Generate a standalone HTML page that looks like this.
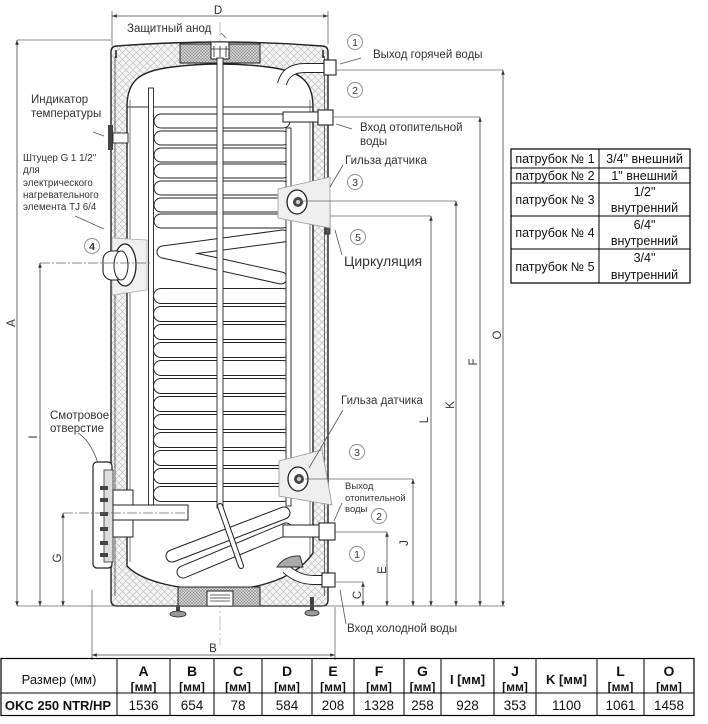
<!DOCTYPE html>
<html><head><meta charset="utf-8">
<style>
html,body{margin:0;padding:0;background:#fff;}
svg{display:block;}
text{font-family:"Liberation Sans",sans-serif;fill:#333;}
.tb text{fill:#111;}
</style></head><body>
<svg width="708" height="724" viewBox="0 0 708 724" xmlns="http://www.w3.org/2000/svg">
<defs>
<pattern id="xh" width="7" height="7" patternUnits="userSpaceOnUse">
<rect width="7" height="7" fill="#f5f5f5"/>
<path d="M0,0L7,7M7,0L0,7" stroke="#c2c2c2" stroke-width="0.7"/>
</pattern>
<pattern id="dh" width="3" height="3" patternUnits="userSpaceOnUse">
<rect width="3" height="3" fill="#cfcfcf"/>
<path d="M0,0L3,3M3,0L0,3" stroke="#8a8a8a" stroke-width="0.5"/>
</pattern>
<marker id="ar" viewBox="0 0 8 6" refX="8" refY="3" markerWidth="6" markerHeight="5" orient="auto-start-reverse"><path d="M0,0L8,3L0,6Z" fill="#333"/></marker>
</defs>

<!-- center line -->
<line x1="220" y1="22" x2="220" y2="645" stroke="#aaa" stroke-width="0.7" stroke-dasharray="14,3,2,3"/>

<!-- outer shell with insulation -->
<path d="M111,600 L111,52 Q111,46 117,46 Q220,38 322,46 Q328,46 328,52 L328,600 Q328,606 322,606 L117,606 Q111,606 111,600 Z" fill="url(#xh)" stroke="#222" stroke-width="1.4"/>
<line x1="115" y1="56" x2="115" y2="596" stroke="#444" stroke-width="0.8"/>
<line x1="324.5" y1="56" x2="324.5" y2="596" stroke="#444" stroke-width="0.8"/>
<path d="M116,50 L116,58 M323,50 L323,58" stroke="#222" stroke-width="1.5"/>

<!-- inner tank -->
<path d="M127,107 C127,80 140,71 172,67 Q220,61 268,67 C300,71 313,80 313,107 L313,553 C292,584 245,590 220,590 C180,590 142,582 127,566 Z" fill="#fff" stroke="#222" stroke-width="1.4"/>
<line x1="130" y1="100" x2="130" y2="562" stroke="#444" stroke-width="0.7"/>
<line x1="310" y1="100" x2="310" y2="556" stroke="#444" stroke-width="0.7"/>
<line x1="127" y1="107" x2="313" y2="107" stroke="#333" stroke-width="1"/>

<!-- top anode block -->
<rect x="180" y="44" width="80" height="19" fill="url(#dh)" stroke="#222" stroke-width="1"/>
<rect x="211" y="42" width="18" height="17" fill="#fff" stroke="#222" stroke-width="1"/>
<path d="M214,46 L214,57 M220,46 L220,57 M226,46 L226,57 M211,49 L229,49" stroke="#222" stroke-width="0.8"/>

<!-- bottom block -->
<rect x="178" y="587" width="82" height="19" fill="url(#dh)" stroke="#222" stroke-width="1"/>
<rect x="207" y="591" width="26" height="15" fill="#fff" stroke="#222" stroke-width="1"/>
<path d="M210,595 L230,595 M210,598 L230,598 M210,601 L230,601" stroke="#333" stroke-width="0.7"/>

<!-- coils -->
<g stroke="#222" stroke-width="15" stroke-linecap="round" fill="none">
<line x1="161" y1="121" x2="283" y2="121"/><line x1="161" y1="138" x2="283" y2="138"/>
<line x1="161" y1="155" x2="283" y2="155"/><line x1="161" y1="171" x2="283" y2="171"/>
<line x1="161" y1="188" x2="283" y2="188"/><line x1="161" y1="205" x2="283" y2="205"/>
<line x1="161" y1="221" x2="283" y2="221"/>
</g>
<g stroke="#fff" stroke-width="13" stroke-linecap="round" fill="none">
<line x1="161" y1="121" x2="283" y2="121"/><line x1="161" y1="138" x2="283" y2="138"/>
<line x1="161" y1="155" x2="283" y2="155"/><line x1="161" y1="171" x2="283" y2="171"/>
<line x1="161" y1="188" x2="283" y2="188"/><line x1="161" y1="205" x2="283" y2="205"/>
<line x1="161" y1="221" x2="283" y2="221"/>
</g>
<g stroke="#222" stroke-width="16" stroke-linecap="round" fill="none">
<line x1="161" y1="296" x2="283" y2="296"/><line x1="161" y1="314" x2="283" y2="314"/>
<line x1="161" y1="332" x2="283" y2="332"/><line x1="161" y1="350" x2="283" y2="350"/>
<line x1="161" y1="368" x2="283" y2="368"/><line x1="161" y1="386" x2="283" y2="386"/>
<line x1="161" y1="404" x2="283" y2="404"/><line x1="161" y1="422" x2="283" y2="422"/>
<line x1="161" y1="440" x2="283" y2="440"/><line x1="161" y1="458" x2="283" y2="458"/>
<line x1="161" y1="476" x2="283" y2="476"/><line x1="161" y1="494" x2="283" y2="494"/>
</g>
<g stroke="#fff" stroke-width="14" stroke-linecap="round" fill="none">
<line x1="161" y1="296" x2="283" y2="296"/><line x1="161" y1="314" x2="283" y2="314"/>
<line x1="161" y1="332" x2="283" y2="332"/><line x1="161" y1="350" x2="283" y2="350"/>
<line x1="161" y1="368" x2="283" y2="368"/><line x1="161" y1="386" x2="283" y2="386"/>
<line x1="161" y1="404" x2="283" y2="404"/><line x1="161" y1="422" x2="283" y2="422"/>
<line x1="161" y1="440" x2="283" y2="440"/><line x1="161" y1="458" x2="283" y2="458"/>
<line x1="161" y1="476" x2="283" y2="476"/><line x1="161" y1="494" x2="283" y2="494"/>
</g>
<path d="M283,236 L163,252 L281,278" stroke="#222" stroke-width="13" fill="none" stroke-linecap="round" stroke-linejoin="round"/>
<path d="M283,236 L163,252 L281,278" stroke="#fff" stroke-width="11" fill="none" stroke-linecap="round" stroke-linejoin="round"/>
<path d="M172,556 L284,513 M183,572 L286,529" stroke="#222" stroke-width="13" fill="none" stroke-linecap="round"/>
<path d="M172,556 L284,513 M183,572 L286,529" stroke="#fff" stroke-width="11" fill="none" stroke-linecap="round"/>

<!-- tubes -->
<rect x="148.5" y="88" width="5" height="423" fill="#fff" stroke="#222" stroke-width="0.9"/>
<rect x="286" y="128" width="5" height="378" fill="#fff" stroke="#222" stroke-width="0.9"/>
<rect x="217" y="58" width="6" height="450" fill="#fff" stroke="#222" stroke-width="0.9"/>
<line x1="220" y1="506" x2="241" y2="566" stroke="#222" stroke-width="6" stroke-linecap="round"/>
<line x1="220" y1="506" x2="241" y2="566" stroke="#fff" stroke-width="4" stroke-linecap="round"/>

<!-- right pipes -->
<path d="M282,84 Q286,68 305,68 L326,68" stroke="#222" stroke-width="10" fill="none"/>
<path d="M282,84 Q286,68 305,68 L326,68" stroke="#fff" stroke-width="8" fill="none"/>
<rect x="324" y="60" width="12" height="15" fill="#fff" stroke="#222" stroke-width="1.1"/>
<rect x="283" y="112" width="36" height="10" fill="#fff" stroke="#222" stroke-width="1"/>
<rect x="318" y="110" width="15" height="15" fill="#fff" stroke="#222" stroke-width="1.1"/>
<rect x="313" y="212" width="13" height="12" fill="#fff" stroke="#222" stroke-width="1"/>
<rect x="325" y="204" width="5" height="30" fill="#555" stroke="#222" stroke-width="0.8"/>
<rect x="283" y="525" width="37" height="12" fill="#fff" stroke="#222" stroke-width="1"/>
<rect x="319" y="523" width="16" height="17" fill="#fff" stroke="#222" stroke-width="1.1"/>
<path d="M286,569 Q298,580 314,580 L323,580" stroke="#222" stroke-width="10" fill="none"/>
<path d="M286,569 Q298,580 314,580 L323,580" stroke="#fff" stroke-width="8" fill="none"/>
<rect x="322" y="573" width="13" height="14" fill="#fff" stroke="#222" stroke-width="1.1"/>
<path d="M277,567 Q285,555 300,556 L303,567 Z" fill="#aaa" stroke="#222" stroke-width="0.9"/>

<!-- sensors -->
<polygon points="278,189 330,177 330,228 278,218" fill="#efefef" stroke="#999" stroke-width="0.8"/>
<ellipse cx="297" cy="202" rx="10" ry="12" fill="#fff" stroke="#222" stroke-width="1.3"/>
<circle cx="298" cy="202" r="5" fill="#444"/><circle cx="298" cy="202" r="2.2" fill="#ccc"/>
<polygon points="279,461 322,450 332,505 279,496" fill="#efefef" stroke="#999" stroke-width="0.8"/>
<ellipse cx="298" cy="479" rx="10" ry="12" fill="#fff" stroke="#222" stroke-width="1.3"/>
<circle cx="299" cy="479" r="5" fill="#444"/><circle cx="299" cy="479" r="2.2" fill="#ccc"/>

<!-- item 4 -->
<polygon points="112,238 147,240 147,290 112,295" fill="#f0f0f0" stroke="#aaa" stroke-width="0.8"/>
<ellipse cx="125" cy="265" rx="11" ry="21" fill="#fff" stroke="#222" stroke-width="1.3"/>
<rect x="103" y="251" width="22" height="29" rx="9" fill="#fff" stroke="#222" stroke-width="1.1"/>
<ellipse cx="121" cy="265.5" rx="7" ry="14.5" fill="#fff" stroke="#222" stroke-width="1"/>

<!-- temperature indicator -->
<rect x="108" y="125" width="5" height="25" fill="#444"/>
<rect x="113" y="133" width="15" height="10" fill="#fff" stroke="#222" stroke-width="0.9"/>

<!-- inspection hatch -->
<rect x="93" y="462" width="19" height="106" rx="4" fill="#fff" stroke="#222" stroke-width="1.2"/>
<rect x="104" y="470" width="9" height="92" fill="#ddd" stroke="#333" stroke-width="0.8"/>
<g fill="#444"><rect x="100" y="486" width="8" height="4"/><rect x="100" y="498" width="8" height="4"/><rect x="100" y="512" width="8" height="4"/><rect x="100" y="527" width="8" height="4"/><rect x="100" y="541" width="8" height="4"/><rect x="100" y="553" width="8" height="4"/></g>
<rect x="113" y="490" width="20" height="47" fill="#fff" stroke="#222" stroke-width="1"/>
<rect x="113" y="505" width="75" height="15" fill="#fff" stroke="#222" stroke-width="1"/>

<!-- feet -->
<rect x="176" y="605" width="4" height="7" fill="#444"/>
<ellipse cx="178" cy="614" rx="8" ry="3" fill="#999" stroke="#222" stroke-width="0.8"/>
<rect x="310" y="597" width="4" height="14" fill="#444"/>
<ellipse cx="312" cy="613" rx="7" ry="3" fill="#999" stroke="#222" stroke-width="0.8"/>

<!-- dimension lines -->
<g stroke="#666" stroke-width="0.8" fill="none">
<line x1="112" y1="11" x2="112" y2="46"/><line x1="328" y1="11" x2="328" y2="44"/>
<line x1="17" y1="40" x2="111" y2="40"/>
<line x1="40" y1="263" x2="150" y2="263" stroke-dasharray="10,2,2,2"/>
<line x1="63" y1="513" x2="188" y2="513" stroke-dasharray="10,2,2,2"/>
<line x1="17" y1="606" x2="505" y2="606"/>
<line x1="336" y1="70" x2="503" y2="70"/>
<line x1="333" y1="117" x2="480" y2="117"/>
<line x1="300" y1="201" x2="456" y2="201"/>
<line x1="330" y1="216" x2="431" y2="216"/>
<line x1="305" y1="479" x2="413" y2="479"/>
<line x1="335" y1="532" x2="387" y2="532"/>
<line x1="335" y1="582" x2="363" y2="582"/>
<line x1="92" y1="590" x2="92" y2="660"/><line x1="335" y1="607" x2="335" y2="660"/>
</g>
<g stroke="#444" stroke-width="0.8" marker-start="url(#ar)" marker-end="url(#ar)">
<line x1="112" y1="16" x2="328" y2="16"/>
<line x1="92" y1="655" x2="335" y2="655"/>
<line x1="17" y1="606" x2="17" y2="40"/>
<line x1="40" y1="606" x2="40" y2="263"/>
<line x1="63" y1="606" x2="63" y2="513"/>
<line x1="503" y1="606" x2="503" y2="70"/>
<line x1="480" y1="606" x2="480" y2="117"/>
<line x1="456" y1="606" x2="456" y2="201"/>
<line x1="431" y1="606" x2="431" y2="216"/>
<line x1="413" y1="606" x2="413" y2="479"/>
<line x1="387" y1="606" x2="387" y2="532"/>
<line x1="363" y1="606" x2="363" y2="582"/>
</g>

<!-- dimension letters -->
<g font-size="11.5">
<text x="218" y="14" text-anchor="middle">D</text>
<text x="213" y="652" text-anchor="middle">B</text>
<text transform="translate(15,323) rotate(-90)" text-anchor="middle">A</text>
<text transform="translate(37,437) rotate(-90)" text-anchor="middle">I</text>
<text transform="translate(61,558) rotate(-90)" text-anchor="middle">G</text>
<text transform="translate(501,335) rotate(-90)" text-anchor="middle">O</text>
<text transform="translate(477,362) rotate(-90)" text-anchor="middle">F</text>
<text transform="translate(454,405) rotate(-90)" text-anchor="middle">K</text>
<text transform="translate(428,420) rotate(-90)" text-anchor="middle">L</text>
<text transform="translate(408,543) rotate(-90)" text-anchor="middle">J</text>
<text transform="translate(386,570) rotate(-90)" text-anchor="middle">E</text>
<text transform="translate(361,595) rotate(-90)" text-anchor="middle">C</text>
</g>

<!-- leaders -->
<g stroke="#555" stroke-width="0.8" fill="none">
<line x1="221" y1="33" x2="226" y2="38"/>
<line x1="93" y1="132" x2="104" y2="136"/>
<line x1="75" y1="216" x2="104" y2="229"/>
<line x1="340" y1="64" x2="361" y2="58"/>
<line x1="336" y1="124" x2="352" y2="129"/>
<line x1="343" y1="165" x2="330" y2="187"/>
<line x1="335" y1="230" x2="342" y2="255"/>
<path d="M78,433 Q90,440 98,463"/>
<line x1="343" y1="410" x2="309" y2="468"/>
<line x1="342" y1="503" x2="334" y2="521"/>
<line x1="340" y1="590" x2="346" y2="624"/>
</g>

<!-- circled numbers -->
<g fill="#fff" stroke="#888" stroke-width="0.9">
<circle cx="355" cy="42" r="7.5"/><circle cx="355" cy="90" r="7.5"/>
<circle cx="355" cy="182" r="7.5"/><circle cx="358" cy="237" r="7.5"/>
<circle cx="92" cy="246" r="7.5"/><circle cx="357" cy="452" r="7.5"/>
<circle cx="379" cy="516" r="7.5"/><circle cx="357" cy="554" r="7.5"/>
</g>
<g font-size="10.5" text-anchor="middle">
<text x="355" y="46">1</text><text x="355" y="94">2</text>
<text x="355" y="186">3</text><text x="358" y="241">5</text>
<text x="92" y="250" font-weight="bold">4</text><text x="357" y="456">3</text>
<text x="379" y="520">2</text><text x="357" y="558">1</text>
</g>

<!-- labels -->
<g font-size="11.5">
<text x="127" y="32">Защитный анод</text>
<text x="31" y="103">Индикатор</text>
<text x="31" y="117">температуры</text>
<text x="373" y="58">Выход горячей воды</text>
<text x="360" y="131">Вход отопительной</text>
<text x="360" y="145">воды</text>
<text x="345" y="164">Гильза датчика</text>
<text x="50" y="419">Смотровое</text>
<text x="50" y="432">отверстие</text>
<text x="341" y="404">Гильза датчика</text>
<text x="347" y="632">Вход холодной воды</text>
</g>
<g font-size="9.8">
<text x="23" y="161">Штуцер G 1 1/2"</text>
<text x="23" y="173">для</text>
<text x="23" y="186">электрического</text>
<text x="23" y="198">нагревательного</text>
<text x="23" y="210">элемента TJ 6/4</text>
</g>
<g font-size="9.5">
<text x="345" y="489">Выход</text>
<text x="345" y="501">отопительной</text>
<text x="345" y="512">воды</text>
</g>
<text x="344" y="266" font-size="14">Циркуляция</text>

<!-- right table -->
<g class="tb">
<rect x="511" y="149" width="179" height="134" fill="none" stroke="#000" stroke-width="1.2"/>
<g stroke="#000" stroke-width="1">
<line x1="599" y1="149" x2="599" y2="283"/>
<line x1="511" y1="168" x2="690" y2="168"/>
<line x1="511" y1="183" x2="690" y2="183"/>
<line x1="511" y1="216" x2="690" y2="216"/>
<line x1="511" y1="249" x2="690" y2="249"/>
</g>
<g font-size="12.5" text-anchor="middle">
<text x="555" y="163">патрубок № 1</text><text x="644.5" y="163">3/4" внешний</text>
<text x="555" y="180">патрубок № 2</text><text x="644.5" y="180">1" внешний</text>
<text x="555" y="204">патрубок № 3</text><text x="644.5" y="196">1/2"</text><text x="644.5" y="212">внутренний</text>
<text x="555" y="237">патрубок № 4</text><text x="644.5" y="229">6/4"</text><text x="644.5" y="245">внутренний</text>
<text x="555" y="271">патрубок № 5</text><text x="644.5" y="262">3/4"</text><text x="644.5" y="279">внутренний</text>
</g>
</g>

<!-- bottom table -->
<g class="tb">
<rect x="1" y="658.5" width="693" height="57" fill="none" stroke="#000" stroke-width="1.2"/>
<line x1="1" y1="693" x2="694" y2="693" stroke="#000" stroke-width="1"/>
<g stroke="#000" stroke-width="1">
<line x1="117" y1="658" x2="117" y2="716"/><line x1="170" y1="658" x2="170" y2="716"/>
<line x1="214" y1="658" x2="214" y2="716"/><line x1="262" y1="658" x2="262" y2="716"/>
<line x1="312" y1="658" x2="312" y2="716"/><line x1="354" y1="658" x2="354" y2="716"/>
<line x1="404" y1="658" x2="404" y2="716"/><line x1="441" y1="658" x2="441" y2="716"/>
<line x1="494" y1="658" x2="494" y2="716"/><line x1="536" y1="658" x2="536" y2="716"/>
<line x1="597" y1="658" x2="597" y2="716"/><line x1="644" y1="658" x2="644" y2="716"/>
</g>
<text x="59" y="684" font-size="13" text-anchor="middle">Размер (мм)</text>
<g font-size="14" font-weight="bold" text-anchor="middle">
<text x="143.5" y="676">A</text><text x="192" y="676">B</text><text x="238" y="676">C</text>
<text x="287" y="676">D</text><text x="333" y="676">E</text><text x="379" y="676">F</text>
<text x="422.5" y="676">G</text><text x="515" y="676">J</text><text x="620.5" y="676">L</text>
<text x="669" y="676">O</text>
</g>
<g font-size="12" font-weight="bold" text-anchor="middle">
<text x="143.5" y="691">[мм]</text><text x="192" y="691">[мм]</text><text x="238" y="691">[мм]</text>
<text x="287" y="691">[мм]</text><text x="333" y="691">[мм]</text><text x="379" y="691">[мм]</text>
<text x="422.5" y="691">[мм]</text><text x="515" y="691">[мм]</text><text x="620.5" y="691">[мм]</text>
<text x="669" y="691">[мм]</text>
<text x="467.5" y="684" font-size="13">I [мм]</text>
<text x="566.5" y="684" font-size="13">K [мм]</text>
</g>
<text x="58" y="710" font-size="13" font-weight="bold" text-anchor="middle">OKC 250 NTR/HP</text>
<g font-size="13.5" text-anchor="middle">
<text x="143.5" y="710">1536</text><text x="192" y="710">654</text><text x="238" y="710">78</text>
<text x="287" y="710">584</text><text x="333" y="710">208</text><text x="379" y="710">1328</text>
<text x="422.5" y="710">258</text><text x="467.5" y="710">928</text><text x="515" y="710">353</text>
<text x="566.5" y="710">1100</text><text x="620.5" y="710">1061</text><text x="669" y="710">1458</text>
</g>
</g>
</svg>
</body></html>
